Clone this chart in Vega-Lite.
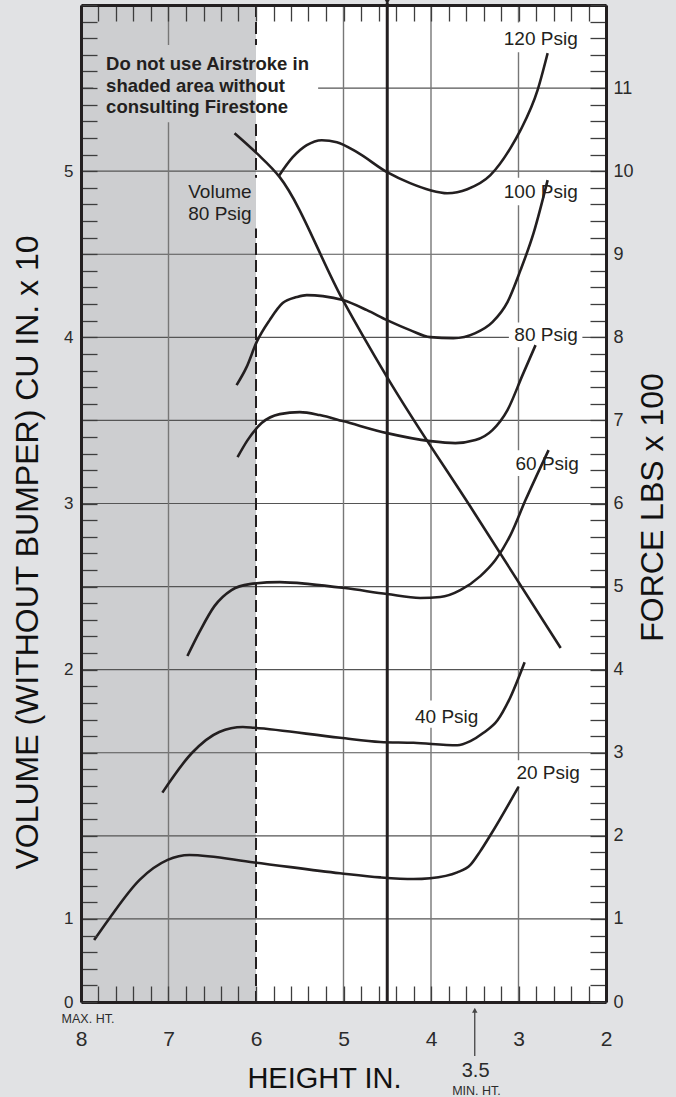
{
  "$schema": "https://vega.github.io/schema/vega-lite/v6.json",
  "width": 525,
  "height": 997,
  "autosize": {"type": "none"},
  "padding": {"left": 81, "top": 5, "right": 70, "bottom": 95},
  "background": "#e1e2e4",
  "config": {
    "view": {"stroke": null, "fill": "#ffffff"},
    "font": "Liberation Sans",
    "text": {"font": "Liberation Sans", "color": "#231f20"},
    "axis": {"labelFont": "Liberation Sans", "titleFont": "Liberation Sans"}
  },
  "datasets": {
    "shade": [{"h1": 8, "h2": 6, "f1": 0, "f2": 12}],
    "hgrid": [{"f": 1}, {"f": 2}, {"f": 3}, {"f": 4}, {"f": 5}, {"f": 6}, {"f": 7}, {"f": 8}, {"f": 9}, {"f": 10}, {"f": 11}],
    "vgrid": [{"h": 7}, {"h": 5}, {"h": 4}, {"h": 3}],
    "dash": [{"h": 6}],
    "mid": [{"h": 4.5, "f1": 0, "f2": 12.03}],
    "masks": [
      {"zone": "shade", "h1": 7.86, "h2": 6, "f1": 10.59, "f2": 11.52},
      {"zone": "white", "h1": 6, "h2": 5.29, "f1": 10.59, "f2": 11.52},
      {"zone": "shade", "h1": 6.82, "h2": 6, "f1": 9.31, "f2": 9.92},
      {"zone": "white", "h1": 6, "h2": 5.97, "f1": 9.31, "f2": 9.92},
      {"zone": "white", "h1": 3.21, "h2": 2.27, "f1": 11.43, "f2": 11.79},
      {"zone": "white", "h1": 3.21, "h2": 2.27, "f1": 9.59, "f2": 9.92},
      {"zone": "white", "h1": 3.11, "h2": 2.27, "f1": 7.88, "f2": 8.18},
      {"zone": "white", "h1": 3.09, "h2": 2.27, "f1": 6.33, "f2": 6.64},
      {"zone": "white", "h1": 4.24, "h2": 3.42, "f1": 3.30, "f2": 3.63},
      {"zone": "white", "h1": 3.07, "h2": 2.27, "f1": 2.60, "f2": 2.91}
    ],
    "curves": [
      {"s": "p20", "h": 7.85, "f": 0.746}, {"s": "p20", "h": 7.68, "f": 1.0}, {"s": "p20", "h": 7.33, "f": 1.47}, {"s": "p20", "h": 7.01, "f": 1.71}, {"s": "p20", "h": 6.76, "f": 1.77}, {"s": "p20", "h": 6.02, "f": 1.68}, {"s": "p20", "h": 5.04, "f": 1.55}, {"s": "p20", "h": 4.58, "f": 1.50}, {"s": "p20", "h": 4.20, "f": 1.48}, {"s": "p20", "h": 4.01, "f": 1.49}, {"s": "p20", "h": 3.70, "f": 1.56}, {"s": "p20", "h": 3.55, "f": 1.65}, {"s": "p20", "h": 3.44, "f": 1.81}, {"s": "p20", "h": 3.32, "f": 2.01}, {"s": "p20", "h": 3.0, "f": 2.59},
      {"s": "p40", "h": 7.07, "f": 2.52}, {"s": "p40", "h": 6.73, "f": 3.0}, {"s": "p40", "h": 6.42, "f": 3.25}, {"s": "p40", "h": 6.15, "f": 3.31}, {"s": "p40", "h": 6.02, "f": 3.30}, {"s": "p40", "h": 5.04, "f": 3.18}, {"s": "p40", "h": 4.58, "f": 3.13}, {"s": "p40", "h": 4.20, "f": 3.12}, {"s": "p40", "h": 3.70, "f": 3.09}, {"s": "p40", "h": 3.55, "f": 3.14}, {"s": "p40", "h": 3.40, "f": 3.24}, {"s": "p40", "h": 3.24, "f": 3.39}, {"s": "p40", "h": 3.11, "f": 3.63}, {"s": "p40", "h": 2.93, "f": 4.09},
      {"s": "p60", "h": 6.784, "f": 4.164}, {"s": "p60", "h": 6.647, "f": 4.452}, {"s": "p60", "h": 6.475, "f": 4.765}, {"s": "p60", "h": 6.28, "f": 4.958}, {"s": "p60", "h": 6.073, "f": 5.03}, {"s": "p60", "h": 5.729, "f": 5.054}, {"s": "p60", "h": 5.385, "f": 5.03}, {"s": "p60", "h": 4.984, "f": 4.982}, {"s": "p60", "h": 4.502, "f": 4.91}, {"s": "p60", "h": 4.124, "f": 4.862}, {"s": "p60", "h": 3.894, "f": 4.874}, {"s": "p60", "h": 3.665, "f": 4.958}, {"s": "p60", "h": 3.436, "f": 5.126}, {"s": "p60", "h": 3.264, "f": 5.319}, {"s": "p60", "h": 3.092, "f": 5.62}, {"s": "p60", "h": 2.92, "f": 6.041}, {"s": "p60", "h": 2.656, "f": 6.643},
      {"s": "p80", "h": 6.211, "f": 6.558}, {"s": "p80", "h": 6.096, "f": 6.763}, {"s": "p80", "h": 5.936, "f": 6.968}, {"s": "p80", "h": 5.729, "f": 7.076}, {"s": "p80", "h": 5.5, "f": 7.1}, {"s": "p80", "h": 5.271, "f": 7.064}, {"s": "p80", "h": 5.007, "f": 6.992}, {"s": "p80", "h": 4.502, "f": 6.847}, {"s": "p80", "h": 4.009, "f": 6.751}, {"s": "p80", "h": 3.722, "f": 6.727}, {"s": "p80", "h": 3.493, "f": 6.763}, {"s": "p80", "h": 3.298, "f": 6.883}, {"s": "p80", "h": 3.126, "f": 7.124}, {"s": "p80", "h": 2.954, "f": 7.545}, {"s": "p80", "h": 2.805, "f": 7.906},
      {"s": "p100", "h": 6.222, "f": 7.425}, {"s": "p100", "h": 6.108, "f": 7.641}, {"s": "p100", "h": 5.993, "f": 7.942}, {"s": "p100", "h": 5.844, "f": 8.207}, {"s": "p100", "h": 5.695, "f": 8.412}, {"s": "p100", "h": 5.534, "f": 8.484}, {"s": "p100", "h": 5.42, "f": 8.508}, {"s": "p100", "h": 5.236, "f": 8.496}, {"s": "p100", "h": 5.007, "f": 8.448}, {"s": "p100", "h": 4.732, "f": 8.327}, {"s": "p100", "h": 4.502, "f": 8.207}, {"s": "p100", "h": 4.239, "f": 8.087}, {"s": "p100", "h": 4.009, "f": 8.002}, {"s": "p100", "h": 3.745, "f": 7.99}, {"s": "p100", "h": 3.493, "f": 8.051}, {"s": "p100", "h": 3.298, "f": 8.183}, {"s": "p100", "h": 3.126, "f": 8.424}, {"s": "p100", "h": 2.977, "f": 8.809}, {"s": "p100", "h": 2.828, "f": 9.254}, {"s": "p100", "h": 2.667, "f": 9.892},
      {"s": "p120", "h": 5.741, "f": 9.94}, {"s": "p120", "h": 5.58, "f": 10.168}, {"s": "p120", "h": 5.42, "f": 10.313}, {"s": "p120", "h": 5.248, "f": 10.373}, {"s": "p120", "h": 5.076, "f": 10.349}, {"s": "p120", "h": 4.846, "f": 10.229}, {"s": "p120", "h": 4.502, "f": 9.988}, {"s": "p120", "h": 4.239, "f": 9.856}, {"s": "p120", "h": 4.009, "f": 9.771}, {"s": "p120", "h": 3.814, "f": 9.735}, {"s": "p120", "h": 3.585, "f": 9.783}, {"s": "p120", "h": 3.321, "f": 9.952}, {"s": "p120", "h": 3.092, "f": 10.277}, {"s": "p120", "h": 2.977, "f": 10.493}, {"s": "p120", "h": 2.782, "f": 10.975}, {"s": "p120", "h": 2.667, "f": 11.42},
      {"s": "vol", "h": 6.245, "f": 10.457}, {"s": "vol", "h": 5.993, "f": 10.217}, {"s": "vol", "h": 5.729, "f": 9.928}, {"s": "vol", "h": 5.007, "f": 8.448}, {"s": "vol", "h": 4.502, "f": 7.521}, {"s": "vol", "h": 3.5, "f": 5.88}, {"s": "vol", "h": 2.518, "f": 4.26}
    ],
    "psig": [
      {"text": "120 Psig", "h": 2.323, "f": 11.52},
      {"text": "100 Psig", "h": 2.323, "f": 9.675},
      {"text": "80 Psig", "h": 2.323, "f": 7.95},
      {"text": "60 Psig", "h": 2.31, "f": 6.40},
      {"text": "40 Psig", "h": 3.459, "f": 3.357},
      {"text": "20 Psig", "h": 2.30, "f": 2.68},
      {"text": "Volume", "h": 6.05, "f": 9.675},
      {"text": "80 Psig", "h": 6.05, "f": 9.41}
    ],
    "notice": [
      {"text": "Do not use Airstroke in", "h": 7.713, "f": 11.215},
      {"text": "shaded area without", "h": 7.713, "f": 10.95},
      {"text": "consulting Firestone", "h": 7.713, "f": 10.70}
    ],
    "notes": [
      {"text": "MAX. HT.", "h": 7.92, "f": -0.253},
      {"text": "MIN. HT.", "h": 3.48, "f": -1.119}
    ],
    "minval": [{"text": "3.5", "h": 3.49, "f": -0.9025}],
    "arrow": [{"h": 3.5, "f1": -0.65, "f2": -0.08}],
    "headup": [{"h": 3.5, "f": -0.1}],
    "headdown": [{"h": 4.5, "f": 12.035}]
  },
  "layer": [
    {
      "data": {"name": "shade"},
      "mark": {"type": "rect", "fill": "#cdced0"},
      "encoding": {
        "x": {"field": "h1", "type": "quantitative", "scale": {"domain": [2, 8], "reverse": true, "nice": false, "zero": false},
          "axis": {"orient": "bottom", "values": [2,2.2,2.4,2.6,2.8,3,3.2,3.4,3.6,3.8,4,4.2,4.4,4.6,4.8,5,5.2,5.4,5.6,5.8,6,6.2,6.4,6.6,6.8,7,7.2,7.4,7.6,7.8,8],
            "tickSize": -16, "tickColor": "#3d3d3d", "tickWidth": 1.3, "labels": false, "grid": false, "domainColor": "#231f20", "domainWidth": 3, "title": null, "zindex": 2}},
        "x2": {"field": "h2"},
        "y": {"field": "f1", "type": "quantitative", "scale": {"domain": [0, 12], "nice": false, "zero": false},
          "axis": {"orient": "left", "values": [0,0.2,0.4,0.6,0.8,1,1.2,1.4,1.6,1.8,2,2.2,2.4,2.6,2.8,3,3.2,3.4,3.6,3.8,4,4.2,4.4,4.6,4.8,5,5.2,5.4,5.6,5.8,6,6.2,6.4,6.6,6.8,7,7.2,7.4,7.6,7.8,8,8.2,8.4,8.6,8.8,9,9.2,9.4,9.6,9.8,10,10.2,10.4,10.6,10.8,11,11.2,11.4,11.6,11.8,12],
            "tickSize": -16, "tickColor": "#3d3d3d", "tickWidth": 1.3, "labels": false, "grid": false, "domainColor": "#231f20", "domainWidth": 3, "title": null, "zindex": 2}},
        "y2": {"field": "f2"}
      }
    },
    {
      "data": {"name": "hgrid"},
      "mark": {"type": "rule", "stroke": "#555555", "strokeWidth": 1.2},
      "encoding": {
        "y": {"field": "f", "type": "quantitative", "scale": {"domain": [0, 12], "nice": false, "zero": false},
          "axis": {"orient": "right", "values": [0,0.2,0.4,0.6,0.8,1,1.2,1.4,1.6,1.8,2,2.2,2.4,2.6,2.8,3,3.2,3.4,3.6,3.8,4,4.2,4.4,4.6,4.8,5,5.2,5.4,5.6,5.8,6,6.2,6.4,6.6,6.8,7,7.2,7.4,7.6,7.8,8,8.2,8.4,8.6,8.8,9,9.2,9.4,9.6,9.8,10,10.2,10.4,10.6,10.8,11,11.2,11.4,11.6,11.8,12],
            "tickSize": -16, "tickColor": "#3d3d3d", "tickWidth": 1.3, "labels": false, "grid": false, "domainColor": "#231f20", "domainWidth": 3, "title": null, "zindex": 2}}
      }
    },
    {
      "data": {"name": "vgrid"},
      "mark": {"type": "rule", "stroke": "#777777", "strokeWidth": 1.4},
      "encoding": {
        "x": {"field": "h", "type": "quantitative", "scale": {"domain": [2, 8], "reverse": true, "nice": false, "zero": false},
          "axis": {"orient": "top", "values": [2,2.2,2.4,2.6,2.8,3,3.2,3.4,3.6,3.8,4,4.2,4.4,4.6,4.8,5,5.2,5.4,5.6,5.8,6,6.2,6.4,6.6,6.8,7,7.2,7.4,7.6,7.8,8],
            "tickSize": -16, "tickColor": "#3d3d3d", "tickWidth": 1.3, "labels": false, "grid": false, "domainColor": "#231f20", "domainWidth": 3, "title": null, "zindex": 2}}
      }
    },
    {
      "data": {"name": "dash"},
      "mark": {"type": "rule", "stroke": "#231f20", "strokeWidth": 2, "strokeDash": [12, 5]},
      "encoding": {
        "x": {"field": "h", "type": "quantitative", "scale": {"domain": [2, 8], "reverse": true, "nice": false, "zero": false},
          "axis": {"orient": "bottom", "values": [2, 3, 4, 5, 6, 7, 8], "format": "d", "domain": false, "ticks": false, "grid": false,
            "labelPadding": 37, "labelBaseline": "middle", "labelFontSize": 21, "labelColor": "#2b2b2b", "labelFlush": false, "labelOverlap": false,
            "title": "HEIGHT IN.", "titleFontSize": 29, "titleFontWeight": "normal", "titleColor": "#111111", "titleX": 243, "titleY": 76, "titleBaseline": "middle", "titleAlign": "center", "zindex": 2}}
      }
    },
    {
      "data": {"name": "masks"},
      "mark": {"type": "rect"},
      "encoding": {
        "x": {"field": "h1", "type": "quantitative", "scale": {"domain": [2, 8], "reverse": true, "nice": false, "zero": false}, "axis": null},
        "x2": {"field": "h2"},
        "y": {"field": "f1", "type": "quantitative", "scale": {"domain": [0, 12], "nice": false, "zero": false},
          "axis": {"orient": "left", "values": [0, 1, 4, 6, 8, 10], "labelExpr": "datum.value <= 1 ? datum.label : format(datum.value / 2, 'd')",
            "domain": false, "ticks": false, "grid": false, "labelPadding": 8, "labelFontSize": 17, "labelColor": "#2b2b2b", "labelFlush": false, "labelOverlap": false,
            "title": "VOLUME (WITHOUT BUMPER) CU IN. x 10", "titleFontSize": 32, "titleFontWeight": "normal", "titleColor": "#111111",
            "titleX": -54, "titleY": 547, "titleAngle": 270, "titleBaseline": "middle", "titleAlign": "center", "zindex": 2}},
        "y2": {"field": "f2"},
        "fill": {"field": "zone", "type": "nominal", "scale": {"domain": ["shade", "white"], "range": ["#cdced0", "#ffffff"]}, "legend": null}
      }
    },
    {
      "data": {"name": "mid"},
      "mark": {"type": "rule", "stroke": "#231f20", "strokeWidth": 3},
      "encoding": {
        "x": {"field": "h", "type": "quantitative", "scale": {"domain": [2, 8], "reverse": true, "nice": false, "zero": false}, "axis": null},
        "y": {"field": "f1", "type": "quantitative", "scale": {"domain": [0, 12], "nice": false, "zero": false},
          "axis": {"orient": "right", "values": [0, 1, 2, 3, 4, 5, 6, 7, 8, 9, 10, 11], "format": "d",
            "domain": false, "ticks": false, "grid": false, "labelPadding": 7, "labelFontSize": 18, "labelColor": "#2b2b2b", "labelFlush": false, "labelOverlap": false,
            "title": "FORCE LBS x 100", "titleFontSize": 32, "titleFontWeight": "normal", "titleColor": "#111111",
            "titleX": 46, "titleY": 502, "titleAngle": 270, "titleBaseline": "middle", "titleAlign": "center", "zindex": 2}},
        "y2": {"field": "f2"}
      }
    },
    {
      "data": {"name": "curves"},
      "mark": {"type": "line", "stroke": "#231f20", "strokeWidth": 2.6, "interpolate": "monotone"},
      "encoding": {
        "x": {"field": "h", "type": "quantitative", "scale": {"domain": [2, 8], "reverse": true, "nice": false, "zero": false}, "axis": null},
        "y": {"field": "f", "type": "quantitative", "scale": {"domain": [0, 12], "nice": false, "zero": false}, "axis": null},
        "detail": {"field": "s", "type": "nominal"}
      }
    },
    {
      "data": {"name": "psig"},
      "mark": {"type": "text", "align": "right", "baseline": "alphabetic", "fontSize": 19, "color": "#231f20"},
      "encoding": {
        "x": {"field": "h", "type": "quantitative", "scale": {"domain": [2, 8], "reverse": true, "nice": false, "zero": false}, "axis": null},
        "y": {"field": "f", "type": "quantitative", "scale": {"domain": [0, 12], "nice": false, "zero": false}, "axis": null},
        "text": {"field": "text"}
      }
    },
    {
      "data": {"name": "notice"},
      "mark": {"type": "text", "align": "left", "baseline": "alphabetic", "fontSize": 18.5, "fontWeight": "bold", "color": "#231f20"},
      "encoding": {
        "x": {"field": "h", "type": "quantitative", "scale": {"domain": [2, 8], "reverse": true, "nice": false, "zero": false}, "axis": null},
        "y": {"field": "f", "type": "quantitative", "scale": {"domain": [0, 12], "nice": false, "zero": false}, "axis": null},
        "text": {"field": "text"}
      }
    },
    {
      "data": {"name": "notes"},
      "mark": {"type": "text", "align": "center", "baseline": "alphabetic", "fontSize": 12.5, "color": "#2b2b2b"},
      "encoding": {
        "x": {"field": "h", "type": "quantitative", "scale": {"domain": [2, 8], "reverse": true, "nice": false, "zero": false}, "axis": null},
        "y": {"field": "f", "type": "quantitative", "scale": {"domain": [0, 12], "nice": false, "zero": false}, "axis": null},
        "text": {"field": "text"}
      }
    },
    {
      "data": {"name": "minval"},
      "mark": {"type": "text", "align": "center", "baseline": "alphabetic", "fontSize": 20, "color": "#2b2b2b"},
      "encoding": {
        "x": {"field": "h", "type": "quantitative", "scale": {"domain": [2, 8], "reverse": true, "nice": false, "zero": false}, "axis": null},
        "y": {"field": "f", "type": "quantitative", "scale": {"domain": [0, 12], "nice": false, "zero": false}, "axis": null},
        "text": {"field": "text"}
      }
    },
    {
      "data": {"name": "arrow"},
      "mark": {"type": "rule", "stroke": "#444444", "strokeWidth": 1.3},
      "encoding": {
        "x": {"field": "h", "type": "quantitative", "scale": {"domain": [2, 8], "reverse": true, "nice": false, "zero": false}, "axis": null},
        "y": {"field": "f1", "type": "quantitative", "scale": {"domain": [0, 12], "nice": false, "zero": false}, "axis": null},
        "y2": {"field": "f2"}
      }
    },
    {
      "data": {"name": "headup"},
      "mark": {"type": "point", "shape": "triangle-up", "filled": true, "color": "#444444", "size": 30, "opacity": 1},
      "encoding": {
        "x": {"field": "h", "type": "quantitative", "scale": {"domain": [2, 8], "reverse": true, "nice": false, "zero": false}, "axis": null},
        "y": {"field": "f", "type": "quantitative", "scale": {"domain": [0, 12], "nice": false, "zero": false}, "axis": null}
      }
    },
    {
      "data": {"name": "headdown"},
      "mark": {"type": "point", "shape": "triangle-down", "filled": true, "color": "#231f20", "size": 25, "opacity": 1},
      "encoding": {
        "x": {"field": "h", "type": "quantitative", "scale": {"domain": [2, 8], "reverse": true, "nice": false, "zero": false}, "axis": null},
        "y": {"field": "f", "type": "quantitative", "scale": {"domain": [0, 12], "nice": false, "zero": false}, "axis": null}
      }
    }
  ],
  "resolve": {"axis": {"x": "independent", "y": "independent"}}
}
